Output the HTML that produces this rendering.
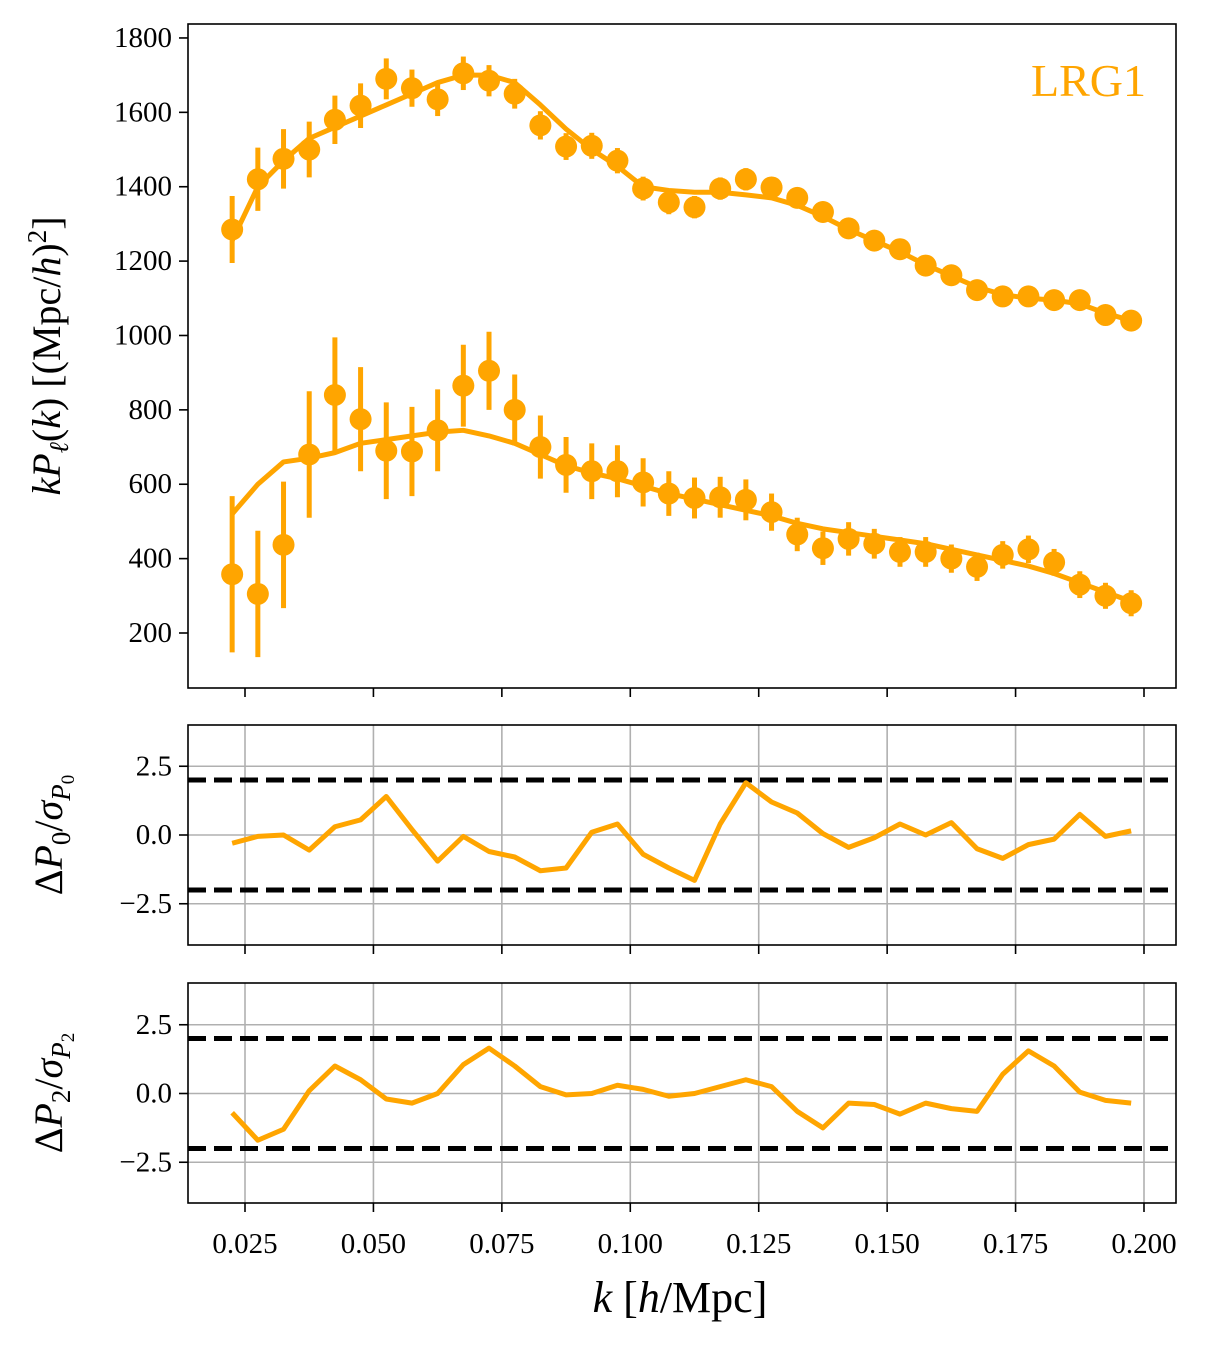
<!DOCTYPE html>
<html><head><meta charset="utf-8"><style>
body{margin:0;background:#fff}
svg text{font-family:"Liberation Serif",serif;fill:#000}
</style></head><body>
<svg id="chart" width="1210" height="1350" xmlns="http://www.w3.org/2000/svg">
<rect width="1210" height="1350" fill="#fff"/>
<g id="g"></g>
</svg>
<script>
const kvals=[0.0225,0.0275,0.0325,0.0375,0.0425,0.0475,0.0525,0.0575,0.0625,0.0675,0.0725,0.0775,0.0825,0.0875,0.0925,0.0975,0.1025,0.1075,0.1125,0.1175,0.1225,0.1275,0.1325,0.1375,0.1425,0.1475,0.1525,0.1575,0.1625,0.1675,0.1725,0.1775,0.1825,0.1875,0.1925,0.1975];
const p0Data=[1285,1420,1475,1500,1580,1618,1690,1665,1635,1705,1685,1650,1565,1508,1510,1470,1395,1358,1345,1395,1420,1398,1370,1332,1288,1255,1232,1188,1162,1122,1105,1105,1095,1095,1055,1040];
const p0Err=[90,85,80,75,65,60,55,50,45,45,42,40,38,36,35,34,32,32,30,30,30,28,28,28,27,26,26,25,25,25,24,24,24,24,23,23];
const p0Model=[1255,1400,1470,1530,1560,1590,1620,1650,1680,1700,1700,1680,1620,1555,1500,1455,1400,1390,1385,1385,1378,1370,1350,1320,1285,1255,1225,1190,1160,1130,1110,1100,1095,1085,1060,1040];
const p2Data=[358,305,437,680,840,775,690,688,745,865,905,800,700,652,635,635,605,575,563,565,558,525,465,428,453,440,418,418,400,378,410,425,390,330,300,280];
const p2Err=[210,170,170,170,155,140,130,120,110,110,105,95,85,75,75,70,65,60,55,55,55,50,45,45,45,40,40,40,38,38,37,37,36,36,35,35];
const p2Model=[520,600,660,670,685,710,720,730,740,745,730,710,680,650,630,615,595,575,560,545,530,515,495,480,470,460,450,440,425,410,395,380,360,335,310,285];
const res0=[-0.3,-0.05,0.0,-0.55,0.3,0.55,1.4,0.2,-0.95,-0.05,-0.6,-0.8,-1.3,-1.2,0.1,0.4,-0.7,-1.2,-1.65,0.4,1.9,1.2,0.8,0.05,-0.45,-0.1,0.4,0.0,0.45,-0.5,-0.85,-0.35,-0.15,0.75,-0.05,0.15];
const res2=[-0.7,-1.7,-1.3,0.1,1.0,0.5,-0.2,-0.35,0.0,1.05,1.65,1.0,0.25,-0.05,0.0,0.3,0.15,-0.1,0.0,0.25,0.5,0.25,-0.65,-1.25,-0.35,-0.4,-0.75,-0.35,-0.55,-0.65,0.7,1.55,1.0,0.05,-0.25,-0.35];
const xTicks=[0.025,0.050,0.075,0.100,0.125,0.150,0.175,0.200];
const xTickLabels=["0.025","0.050","0.075","0.100","0.125","0.150","0.175","0.200"];
const yTicksTop=[200,400,600,800,1000,1200,1400,1600,1800];
const resTicks=[-2.5,0,2.5];
const resTickLabels=["\u22122.5","0.0","2.5"];

const OR="#FFA500";
const g=document.getElementById('g');
const NS="http://www.w3.org/2000/svg";
function el(t,a,p){const e=document.createElementNS(NS,t);for(const k in a)e.setAttribute(k,a[k]);(p||g).appendChild(e);return e;}
const X=k=>245+(k-0.025)/0.175*899;
const L=188,R=1176;
const Ytop=v=>633-(v-200)*0.3719;
const Ym=v=>835-v*27.5;
const Yb=v=>1093.5-v*27.5;

function ticksX(y0,labels){
  xTicks.forEach((k,i)=>{
    const t=el('line',{x1:X(k),x2:X(k),y1:y0,y2:y0+9,stroke:'#000','stroke-width':1.6});
    
    
    if(labels){const tx=el('text',{x:X(k),y:y0+50,'text-anchor':'middle','font-size':29});tx.textContent=xTickLabels[i];
      
      }
  });
}
yTicksTop.forEach(v=>{
  el('line',{x1:L-9,x2:L,y1:Ytop(v),y2:Ytop(v),stroke:'#000','stroke-width':1.6});
  const t=el('text',{x:L-16,y:Ytop(v)+9,'text-anchor':'end','font-size':29});t.textContent=v;
  
  
});
ticksX(688,false);
function line(arr,Y,name){
  const p=el('polyline',{points:arr.map((v,i)=>X(kvals[i])+','+Y(v)).join(' '),fill:'none',stroke:OR,'stroke-width':5,'stroke-linejoin':'round'});
  
  
}
function points(d,e,name){
  d.forEach((v,i)=>{
    const x=X(kvals[i]);
    el('line',{x1:x,x2:x,y1:Ytop(v-e[i]),y2:Ytop(v+e[i]),stroke:OR,'stroke-width':5});
    const c=el('circle',{cx:x,cy:Ytop(v),r:11,fill:OR});
    
    
  });
}
line(p0Model,Ytop,'monopole-model-line');
line(p2Model,Ytop,'quadrupole-model-line');
points(p0Data,p0Err,'monopole-point');
points(p2Data,p2Err,'quadrupole-point');
el('rect',{x:L,y:24,width:R-L,height:664,fill:'none',stroke:'#000','stroke-width':1.6});
const lg=el('text',{x:1146,y:96,'text-anchor':'end','font-size':46,fill:OR});lg.textContent='LRG1';lg.style.fill=OR;


const yl=el('text',{x:0,y:0,'text-anchor':'middle','font-size':40,transform:'translate(60,356) rotate(-90)'});
yl.innerHTML='<tspan font-style="italic">kP</tspan><tspan font-style="italic" font-size="27" dy="8">ℓ</tspan><tspan dy="-8">(</tspan><tspan font-style="italic">k</tspan>) [(Mpc/<tspan font-style="italic">h</tspan>)<tspan font-size="27" dy="-14">2</tspan><tspan dy="14">]</tspan>';



function resPanel(top,Y,data,name,lab){
  const bot=top+220;
  xTicks.forEach(k=>el('line',{x1:X(k),x2:X(k),y1:top,y2:bot,stroke:'#b0b0b0','stroke-width':1.6}));
  resTicks.forEach((v,i)=>{
    el('line',{x1:L,x2:R,y1:Y(v),y2:Y(v),stroke:'#b0b0b0','stroke-width':1.6});
    el('line',{x1:L-9,x2:L,y1:Y(v),y2:Y(v),stroke:'#000','stroke-width':1.6});
    const t=el('text',{x:L-16,y:Y(v)+9,'text-anchor':'end','font-size':29});t.textContent=resTickLabels[i];
    
    
  });
  [2,-2].forEach(v=>el('line',{x1:L,x2:R,y1:Y(v),y2:Y(v),stroke:'#000','stroke-width':5,'stroke-dasharray':'18,8'}));
  line(data,Y,name);
  el('rect',{x:L,y:top,width:R-L,height:220,fill:'none',stroke:'#000','stroke-width':1.6});
  const t=el('text',{x:0,y:0,'text-anchor':'middle','font-size':40,transform:`translate(62,${top+110}) rotate(-90)`});
  t.innerHTML=`Δ<tspan font-style="italic">P</tspan><tspan font-size="27" dy="8">${lab}</tspan><tspan dy="-8">/</tspan><tspan font-style="italic">σ</tspan><tspan font-style="italic" font-size="27" dy="8">P</tspan><tspan font-size="19" dy="4">${lab}</tspan>`;
  
  
}
resPanel(725,Ym,res0,'monopole-residual','0');
ticksX(945,false);
resPanel(983,Yb,res2,'quadrupole-residual','2');
ticksX(1203,true);
const xl=el('text',{x:680,y:1312,'text-anchor':'middle','font-size':44});
xl.innerHTML='<tspan font-style="italic">k</tspan> [<tspan font-style="italic">h</tspan>/Mpc]';


</script>
</body></html>
